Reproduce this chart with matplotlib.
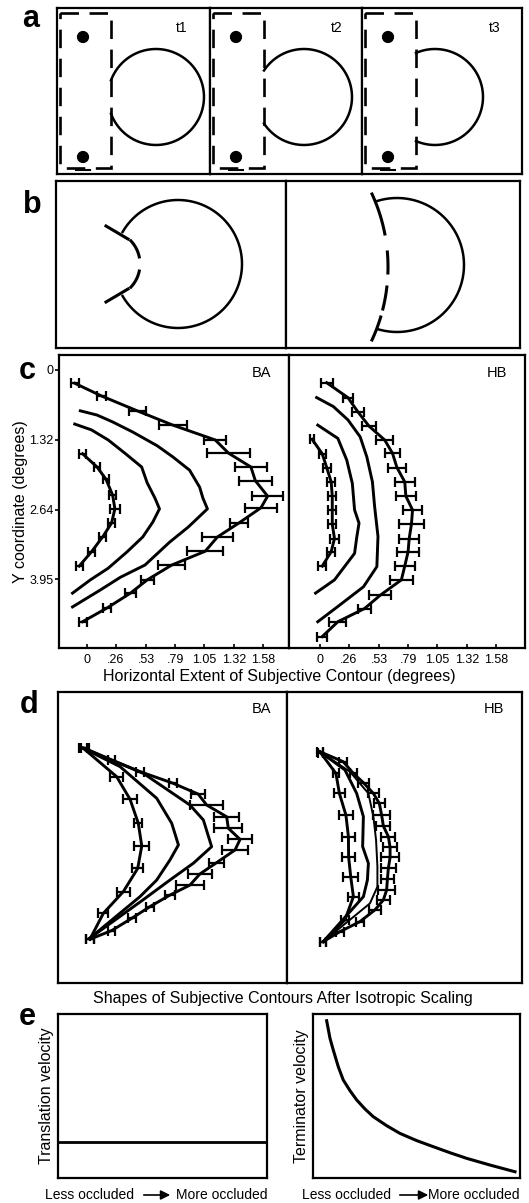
import numpy as np
import matplotlib
matplotlib.use('Agg')
import matplotlib.pyplot as plt
from matplotlib.patches import Circle, Rectangle, FancyArrowPatch

plt.rcParams['font.family'] = ['Liberation Sans', 'DejaVu Sans']

# ---------------- data ----------------
# panel a (schematic, frame pixel units)
a_frame_labels = ['t1', 't2', 't3']
a_circle_cx = [99, 94, 73]
a_circle_cy = 89
a_circle_r = 48
a_occluder = (3, 5, 54, 160)          # left, top, right, bottom
a_dot_x = 26
a_dot_y = [29, 149]

# panel b (schematic units)
b_left_circle = (122, 83, 64, 150)   # cx, cy, r, end angle
b_left_terminators = [((50, 45), (72, 58)), ((50, 121), (72, 108))]
b_left_contour = (50, 83, 34)        # cx, cy, r of subjective contour
b_left_dashes = [(-43, -12), (12, 43)]
b_right_circle = (111, 84, 67, 107)
b_right_contour = (-72.5, 86, 174.5)
b_right_dashes_y = [(13, 53), (71, 92), (106, 128), (136, 159)]

# panel c : BA
c_xticks = [0, 0.26, 0.53, 0.79, 1.05, 1.32, 1.58]
c_xticklabels = ['0', '.26', '.53', '.79', '1.05', '1.32', '1.58']
c_yticks = [0, 1.32, 2.64, 3.95]
c_yticklabels = ['0', '1.32', '2.64', '3.95']

ba_outer_x = [-0.11, 0.13, 0.45, 0.77, 1.15, 1.27, 1.47, 1.51, 1.62, 1.56, 1.36, 1.17, 1.06, 0.76, 0.54, 0.39, 0.18, -0.04]
ba_outer_y = [0.25, 0.49, 0.77, 1.04, 1.32, 1.57, 1.83, 2.09, 2.38, 2.60, 2.89, 3.15, 3.42, 3.68, 3.96, 4.21, 4.49, 4.75]
ba_outer_err = [0.035, 0.036, 0.075, 0.125, 0.10, 0.19, 0.14, 0.15, 0.14, 0.14, 0.08, 0.14, 0.16, 0.12, 0.06, 0.05, 0.036, 0.036]
ba_inner_x = [-0.04, 0.09, 0.17, 0.23, 0.25, 0.22, 0.14, 0.04, -0.07]
ba_inner_y = [1.58, 1.83, 2.06, 2.36, 2.62, 2.89, 3.15, 3.43, 3.70]
ba_inner_err = [0.03, 0.03, 0.03, 0.03, 0.045, 0.03, 0.03, 0.03, 0.03]
ba_mid1_x = [-0.06, 0.09, 0.23, 0.41, 0.63, 0.77, 0.92, 1.01, 1.04, 1.08, 0.91, 0.74, 0.52, 0.30, 0.12, -0.13]
ba_mid1_y = [0.77, 0.85, 0.98, 1.17, 1.43, 1.64, 1.89, 2.21, 2.42, 2.62, 2.96, 3.25, 3.68, 3.91, 4.15, 4.47]
ba_mid2_x = [-0.11, 0.04, 0.19, 0.34, 0.49, 0.54, 0.61, 0.65, 0.59, 0.50, 0.36, 0.19, 0.03, -0.13]
ba_mid2_y = [1.02, 1.13, 1.32, 1.57, 1.83, 2.13, 2.42, 2.62, 2.87, 3.15, 3.43, 3.74, 3.96, 4.21]

# panel c : HB
hb_outer_x = [0.06, 0.25, 0.34, 0.44, 0.58, 0.65, 0.69, 0.76, 0.77, 0.83, 0.82, 0.80, 0.79, 0.76, 0.73, 0.54, 0.40, 0.16, 0.02]
hb_outer_y = [0.24, 0.52, 0.79, 1.06, 1.32, 1.57, 1.84, 2.11, 2.38, 2.64, 2.91, 3.18, 3.43, 3.70, 3.96, 4.25, 4.50, 4.75, 5.03]
hb_outer_err = [0.054, 0.045, 0.054, 0.066, 0.075, 0.066, 0.084, 0.09, 0.09, 0.084, 0.11, 0.09, 0.096, 0.09, 0.105, 0.10, 0.06, 0.075, 0.045]
hb_inner_x = [-0.07, 0.02, 0.06, 0.10, 0.11, 0.11, 0.11, 0.13, 0.10, 0.02]
hb_inner_y = [1.31, 1.58, 1.84, 2.11, 2.38, 2.64, 2.91, 3.18, 3.43, 3.70]
hb_inner_err = [0.02, 0.03, 0.036, 0.036, 0.036, 0.036, 0.036, 0.036, 0.036, 0.036]
hb_mid1_x = [-0.03, 0.12, 0.25, 0.36, 0.42, 0.47, 0.49, 0.52, 0.51, 0.39, 0.18, -0.02]
hb_mid1_y = [0.52, 0.69, 0.94, 1.26, 1.64, 2.11, 2.58, 3.14, 3.71, 4.09, 4.43, 4.75]
hb_mid2_x = [-0.02, 0.16, 0.24, 0.29, 0.31, 0.35, 0.33, 0.31, 0.13, -0.04]
hb_mid2_y = [1.04, 1.29, 1.70, 2.14, 2.64, 2.89, 3.15, 3.46, 3.96, 4.21]

# panel d : isotropically scaled shapes (unit = vertical extent)
dba_outer_x = [0.01, 0.149, 0.297, 0.47, 0.60, 0.644, 0.748, 0.757, 0.818, 0.792, 0.696, 0.609, 0.557, 0.453, 0.349, 0.254, 0.149, 0.036]
dba_outer_y = [0.002, 0.062, 0.123, 0.184, 0.24, 0.297, 0.358, 0.418, 0.476, 0.531, 0.597, 0.656, 0.714, 0.766, 0.826, 0.887, 0.951, 0.996]
dba_outer_err = [0.02, 0.02, 0.02, 0.02, 0.038, 0.087, 0.064, 0.073, 0.064, 0.066, 0.038, 0.061, 0.075, 0.026, 0.02, 0.02, 0.02, 0.02]
dba_inner_x = [0.0, 0.175, 0.245, 0.288, 0.306, 0.285, 0.21, 0.106, 0.036]
dba_inner_y = [0.0, 0.149, 0.267, 0.392, 0.51, 0.627, 0.748, 0.861, 0.996]
dba_inner_err = [0.02, 0.035, 0.035, 0.02, 0.038, 0.03, 0.035, 0.026, 0.02]
dba_mid1_x = [0.002, 0.314, 0.557, 0.627, 0.67, 0.575, 0.453, 0.314, 0.036]
dba_mid1_y = [0.002, 0.132, 0.297, 0.375, 0.514, 0.60, 0.6875, 0.79, 0.99]
dba_mid2_x = [0.002, 0.193, 0.384, 0.462, 0.497, 0.453, 0.384, 0.297, 0.036]
dba_mid2_y = [0.002, 0.097, 0.262, 0.392, 0.505, 0.583, 0.6875, 0.774, 0.99]

dhb_outer_x = [0.0, 0.121, 0.174, 0.226, 0.278, 0.309, 0.321, 0.33, 0.356, 0.365, 0.365, 0.356, 0.351, 0.347, 0.33, 0.286, 0.208, 0.104, 0.017]
dhb_outer_y = [0.009, 0.061, 0.122, 0.17, 0.226, 0.278, 0.339, 0.396, 0.451, 0.507, 0.559, 0.616, 0.674, 0.729, 0.781, 0.833, 0.894, 0.946, 0.998]
dhb_outer_err = [0.015, 0.02, 0.02, 0.03, 0.03, 0.03, 0.043, 0.036, 0.036, 0.038, 0.048, 0.038, 0.035, 0.043, 0.035, 0.03, 0.02, 0.02, 0.015]
dhb_inner_x = [0.003, 0.083, 0.101, 0.135, 0.148, 0.149, 0.16, 0.174, 0.13, 0.017]
dhb_inner_y = [0.014, 0.122, 0.226, 0.339, 0.451, 0.556, 0.66, 0.764, 0.885, 0.998]
dhb_inner_err = [0.015, 0.016, 0.03, 0.035, 0.035, 0.035, 0.04, 0.03, 0.02, 0.015]
dhb_mid1_x = [0.0, 0.156, 0.252, 0.278, 0.292, 0.299, 0.299, 0.26, 0.017]
dhb_mid1_y = [0.009, 0.113, 0.226, 0.347, 0.469, 0.608, 0.712, 0.799, 0.998]
dhb_mid2_x = [0.0, 0.13, 0.191, 0.226, 0.222, 0.252, 0.247, 0.226, 0.017]
dhb_mid2_y = [0.009, 0.104, 0.226, 0.347, 0.503, 0.59, 0.677, 0.764, 0.998]

# panel e
e_occ = [0.0, 1.0]
e_translation = [0.22, 0.22]
e_term_x = [0.066, 0.082, 0.098, 0.122, 0.146, 0.179, 0.211, 0.251, 0.291, 0.356, 0.420, 0.501, 0.581, 0.662, 0.742, 0.855, 0.976]
e_term_y = [0.959, 0.852, 0.780, 0.679, 0.598, 0.532, 0.476, 0.421, 0.374, 0.319, 0.272, 0.228, 0.191, 0.154, 0.120, 0.079, 0.038]

# ---------------- figure ----------------
W, H = 529, 1203
fig = plt.figure(figsize=(W / 100, H / 100), dpi=100)
SP = 1.6
LW = 2.1


def add_box(l, t, r, b):
    return fig.add_axes([l / W, 1 - b / H, (r - l) / W, (b - t) / H])


def px_axes(l, t, r, b):
    ax = add_box(l, t, r, b)
    ax.set_xlim(0, r - l)
    ax.set_ylim(b - t, 0)
    ax.set_xticks([])
    ax.set_yticks([])
    for s in ax.spines.values():
        s.set_linewidth(SP)
    return ax


def ftext(px, py, s, **kw):
    fig.text(px / W, 1 - py / H, s, **kw)


def plain(ax):
    ax.set_xticks([])
    ax.set_yticks([])
    for s in ax.spines.values():
        s.set_linewidth(SP)


# ---- panel a ----
a_bounds = [(57, 210), (210, 362), (362, 522)]
a_lbl_x = [125, 127, 133]
for i, (l, r) in enumerate(a_bounds):
    ax = px_axes(l, 8, r, 174)
    ol, ot, orr, ob = a_occluder
    ax.add_patch(Rectangle((ol, ot), orr - ol, ob - ot, fill=False, lw=1.9,
                           ls=(0, (7, 4)), ec='k'))
    for dy in a_dot_y:
        ax.add_patch(Circle((a_dot_x, dy), 5.4, color='k'))
    ax.plot([a_dot_x - 7, a_dot_x + 7], [162, 162], color='k', lw=1.5)
    cx = a_circle_cx[i]
    th0 = np.arccos((orr - cx) / a_circle_r)
    t = np.linspace(-th0, th0, 300)
    ax.plot(cx + a_circle_r * np.cos(t), a_circle_cy + a_circle_r * np.sin(t), color='k', lw=1.8)
    ax.text(a_lbl_x[i], 20, a_frame_labels[i], fontsize=10, ha='center', va='center')

# ---- panel b ----
axb1 = px_axes(56, 181, 286, 348)
cx, cy, r, ang = b_left_circle
t = np.radians(np.linspace(-ang, ang, 300))
axb1.plot(cx + r * np.cos(t), cy + r * np.sin(t), color='k', lw=1.8)
for (p, q) in b_left_terminators:
    axb1.plot([p[0], q[0]], [p[1], q[1]], color='k', lw=2.2)
ccx, ccy, cr = b_left_contour
for a1, a2 in b_left_dashes:
    t = np.radians(np.linspace(a1, a2, 50))
    axb1.plot(ccx + cr * np.cos(t), ccy + cr * np.sin(t), color='k', lw=2.2)

axb2 = px_axes(286, 181, 520, 348)
cx, cy, r, ang = b_right_circle
t = np.radians(np.linspace(-ang, ang, 300))
axb2.plot(cx + r * np.cos(t), cy + r * np.sin(t), color='k', lw=1.8)
ccx, ccy, cr = b_right_contour
for y1, y2 in b_right_dashes_y:
    yy = np.linspace(y1, y2, 50)
    xx = ccx + np.sqrt(cr ** 2 - (yy - ccy) ** 2)
    axb2.plot(xx, yy, color='k', lw=2.2)

# ---- panel c ----
c_top, c_bot = 355, 648
c_y0, c_ys = 370, 53.0
c_xs = 111.5


def c_axes(l, r, x0):
    ax = add_box(l, c_top, r, c_bot)
    ax.set_xlim((l - x0) / c_xs, (r - x0) / c_xs)
    ax.set_ylim((c_bot - c_y0) / c_ys, (c_top - c_y0) / c_ys)
    for s in ax.spines.values():
        s.set_linewidth(SP)
    ax.set_xticks(c_xticks)
    ax.set_xticklabels(c_xticklabels, fontsize=9)
    ax.tick_params(axis='x', direction='in', length=3, width=1.2, pad=4)
    return ax


def eb(ax, x, y, e):
    ax.errorbar(x, y, xerr=e, fmt='none', ecolor='k', elinewidth=1.6,
                capsize=3.4, capthick=1.6)


axc1 = c_axes(59, 289, 87)
axc1.set_yticks(c_yticks)
axc1.set_yticklabels(c_yticklabels, fontsize=9)
axc1.tick_params(axis='y', direction='out', length=3, width=1.2, pad=1)
axc1.plot(ba_outer_x, ba_outer_y, color='k', lw=LW)
eb(axc1, ba_outer_x, ba_outer_y, ba_outer_err)
axc1.plot(ba_mid1_x, ba_mid1_y, color='k', lw=LW)
axc1.plot(ba_mid2_x, ba_mid2_y, color='k', lw=LW)
axc1.plot(ba_inner_x, ba_inner_y, color='k', lw=LW)
eb(axc1, ba_inner_x, ba_inner_y, ba_inner_err)
axc1.text(0.88, 0.94, 'BA', transform=axc1.transAxes, fontsize=10.5, ha='center', va='center')
axc1.set_ylabel('Y coordinate (degrees)', fontsize=11.5, labelpad=1)

axc2 = c_axes(289, 525, 320)
axc2.set_yticks([])
axc2.plot(hb_outer_x, hb_outer_y, color='k', lw=LW)
eb(axc2, hb_outer_x, hb_outer_y, hb_outer_err)
axc2.plot(hb_mid1_x, hb_mid1_y, color='k', lw=LW)
axc2.plot(hb_mid2_x, hb_mid2_y, color='k', lw=LW)
axc2.plot(hb_inner_x, hb_inner_y, color='k', lw=LW)
eb(axc2, hb_inner_x, hb_inner_y, hb_inner_err)
axc2.text(0.88, 0.94, 'HB', transform=axc2.transAxes, fontsize=10.5, ha='center', va='center')

ftext(279, 677, 'Horizontal Extent of Subjective Contour (degrees)', fontsize=11.5,
      ha='center', va='center')

# ---- panel d ----
d_top, d_bot, d_scale = 692, 983, 192.0


def d_axes(l, r, ox, oy):
    ax = add_box(l, d_top, r, d_bot)
    ax.set_xlim((l - ox) / d_scale, (r - ox) / d_scale)
    ax.set_ylim((d_bot - oy) / d_scale, (d_top - oy) / d_scale)
    plain(ax)
    return ax


axd1 = d_axes(58, 287, 83, 748)
axd1.plot(dba_outer_x, dba_outer_y, color='k', lw=LW)
eb(axd1, dba_outer_x, dba_outer_y, dba_outer_err)
axd1.plot(dba_mid1_x, dba_mid1_y, color='k', lw=LW)
axd1.plot(dba_mid2_x, dba_mid2_y, color='k', lw=LW)
axd1.plot(dba_inner_x, dba_inner_y, color='k', lw=LW)
eb(axd1, dba_inner_x, dba_inner_y, dba_inner_err)
axd1.text(0.89, 0.94, 'BA', transform=axd1.transAxes, fontsize=10.5, ha='center', va='center')

axd2 = d_axes(287, 522, 320, 750)
axd2.plot(dhb_outer_x, dhb_outer_y, color='k', lw=LW)
eb(axd2, dhb_outer_x, dhb_outer_y, dhb_outer_err)
axd2.plot(dhb_mid1_x, dhb_mid1_y, color='k', lw=1.4)
axd2.plot(dhb_mid2_x, dhb_mid2_y, color='k', lw=LW)
axd2.plot(dhb_inner_x, dhb_inner_y, color='k', lw=LW)
eb(axd2, dhb_inner_x, dhb_inner_y, dhb_inner_err)
axd2.text(0.88, 0.94, 'HB', transform=axd2.transAxes, fontsize=10.5, ha='center', va='center')

ftext(283, 999, 'Shapes of Subjective Contours After Isotropic Scaling', fontsize=11.5,
      ha='center', va='center')

# ---- panel e ----
axe1 = add_box(58, 1014, 267, 1178)
axe1.set_xlim(0, 1)
axe1.set_ylim(0, 1)
plain(axe1)
axe1.plot(e_occ, e_translation, color='k', lw=2.0)
axe1.set_ylabel('Translation velocity', fontsize=11.5, labelpad=3)

axe2 = add_box(313, 1014, 520, 1178)
axe2.set_xlim(0, 1)
axe2.set_ylim(0, 1)
plain(axe2)
axe2.plot(e_term_x, e_term_y, color='k', lw=2.2)
axe2.set_ylabel('Terminator velocity', fontsize=11.5, labelpad=3)

for lx, ax0, ax1, rx in [(45, 141, 173, 267), (302, 397, 431, 520)]:
    ftext(lx, 1195, 'Less occluded', fontsize=10, ha='left', va='center')
    ftext(rx, 1195, 'More occluded', fontsize=10, ha='right', va='center')
    fig.add_artist(FancyArrowPatch(
        (ax0 / W, 1 - 1195 / H), (ax1 / W, 1 - 1195 / H), transform=fig.transFigure,
        arrowstyle='-|>', mutation_scale=14, lw=1.2, color='k'))

# ---- panel letters ----
for lbl, x, y in [('a', 31, 27), ('b', 32, 213), ('c', 27, 379), ('d', 29, 713), ('e', 27, 1025)]:
    ftext(x, y, lbl, fontsize=22, fontweight='bold', ha='center', va='baseline')

fig.savefig('out.png', dpi=100)
